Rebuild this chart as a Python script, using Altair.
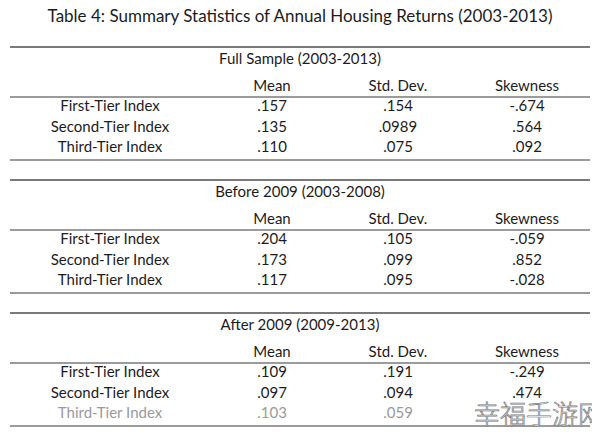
import altair as alt
import pandas as pd

# ---------------- data ----------------
title = "Table 4: Summary Statistics of Annual Housing Returns (2003-2013)"
sections = ["Full Sample (2003-2013)", "Before 2009 (2003-2008)", "After 2009 (2009-2013)"]
columns = ["Mean", "Std. Dev.", "Skewness"]
indices = ["First-Tier Index", "Second-Tier Index", "Third-Tier Index"]
mean_vals = [[".157", ".135", ".110"], [".204", ".173", ".117"], [".109", ".097", ".103"]]
std_vals = [[".154", ".0989", ".075"], [".105", ".099", ".095"], [".191", ".094", ".059"]]
skew_vals = [["-.674", ".564", ".092"], ["-.059", ".852", "-.028"], ["-.249", ".474", ""]]
watermark = "幸福手游网"

# ---------------- layout (image pixel coordinates) ----------------
OFF = 8
PAD_TOP = 10
W, H = 584, 409
COL_X = [110, 272, 398, 527]
CENTER_X = 300
TITLE_Y = 17
SEC_TOP = 47
SEC_STRIDE = 133
TITLE_OFF, HEAD_OFF, HRULE_OFF, ROW0_OFF, ROW_STEP, BOTTOM_OFF = 12, 39, 50, 59, 20.7, 113
RULE_X = (10, 590)
FONT = "Lato"

text_rows = [dict(x=CENTER_X, y=TITLE_Y, text=title, kind="title", tone="main")]
rule_rows = []
for s, sec in enumerate(sections):
    top = SEC_TOP + s * SEC_STRIDE
    rule_rows.append(dict(x=RULE_X[0], x2=RULE_X[1], y=top, w="thick"))
    rule_rows.append(dict(x=RULE_X[0], x2=RULE_X[1], y=top + HRULE_OFF, w="thin"))
    rule_rows.append(dict(x=RULE_X[0], x2=RULE_X[1], y=top + BOTTOM_OFF, w="thin"))
    text_rows.append(dict(x=CENTER_X, y=top + TITLE_OFF, text=sec, kind="body", tone="main"))
    for c, col in enumerate(columns):
        text_rows.append(dict(x=COL_X[c + 1], y=top + HEAD_OFF, text=col, kind="body", tone="main"))
    for r, idx in enumerate(indices):
        y = top + ROW0_OFF + r * ROW_STEP
        tone = "faded" if (s == 2 and r == 2) else "main"
        cells = [idx, mean_vals[s][r], std_vals[s][r], skew_vals[s][r]]
        for c, v in enumerate(cells):
            text_rows.append(dict(x=COL_X[c], y=y, text=v, kind="body", tone=tone))

texts = pd.DataFrame(text_rows)
rules = pd.DataFrame(rule_rows)
wm = pd.DataFrame([dict(x=474, y=424, text=watermark)])

xs = alt.Scale(domain=[OFF, OFF + W], range=[0, W])
ys = alt.Scale(domain=[OFF + PAD_TOP, OFF + PAD_TOP + H], range=[0, H])

rule_layer = alt.Chart(rules).mark_rule(color="#7a7a7a").encode(
    x=alt.X("x:Q", scale=xs, axis=None),
    x2="x2:Q",
    y=alt.Y("y:Q", scale=ys, axis=None),
    strokeWidth=alt.StrokeWidth("w:N", scale=alt.Scale(domain=["thick", "thin"], range=[2, 1.7]), legend=None),
)

tone_scale = alt.Scale(domain=["main", "faded"], range=["#1c1c1c", "#9a9a9a"])

title_layer = alt.Chart(texts[texts.kind == "title"]).mark_text(
    font=FONT, fontSize=17, align="center", baseline="middle"
).encode(
    x=alt.X("x:Q", scale=xs, axis=None),
    y=alt.Y("y:Q", scale=ys, axis=None),
    text="text:N",
    color=alt.Color("tone:N", scale=tone_scale, legend=None),
)

body_layer = alt.Chart(texts[texts.kind == "body"]).mark_text(
    font=FONT, fontSize=15, align="center", baseline="middle"
).encode(
    x=alt.X("x:Q", scale=xs, axis=None),
    y=alt.Y("y:Q", scale=ys, axis=None),
    text="text:N",
    color=alt.Color("tone:N", scale=tone_scale, legend=None),
)

wm_layer = alt.Chart(wm).mark_text(
    font="Noto Sans CJK SC", fontSize=26, align="left", baseline="alphabetic",
    fill="#ffffff", stroke="#777777", strokeWidth=0.7, fontWeight=300,
).encode(
    x=alt.X("x:Q", scale=xs, axis=None),
    y=alt.Y("y:Q", scale=ys, axis=None),
    text="text:N",
)

chart = alt.layer(rule_layer, title_layer, body_layer, wm_layer).properties(
    width=W, height=H, autosize="none",
    padding={"left": 0, "top": PAD_TOP, "right": 0, "bottom": 0},
    background="#ffffff",
).configure_view(stroke=None)

chart.save("out.html", embed_options={"renderer": "svg", "actions": False})
